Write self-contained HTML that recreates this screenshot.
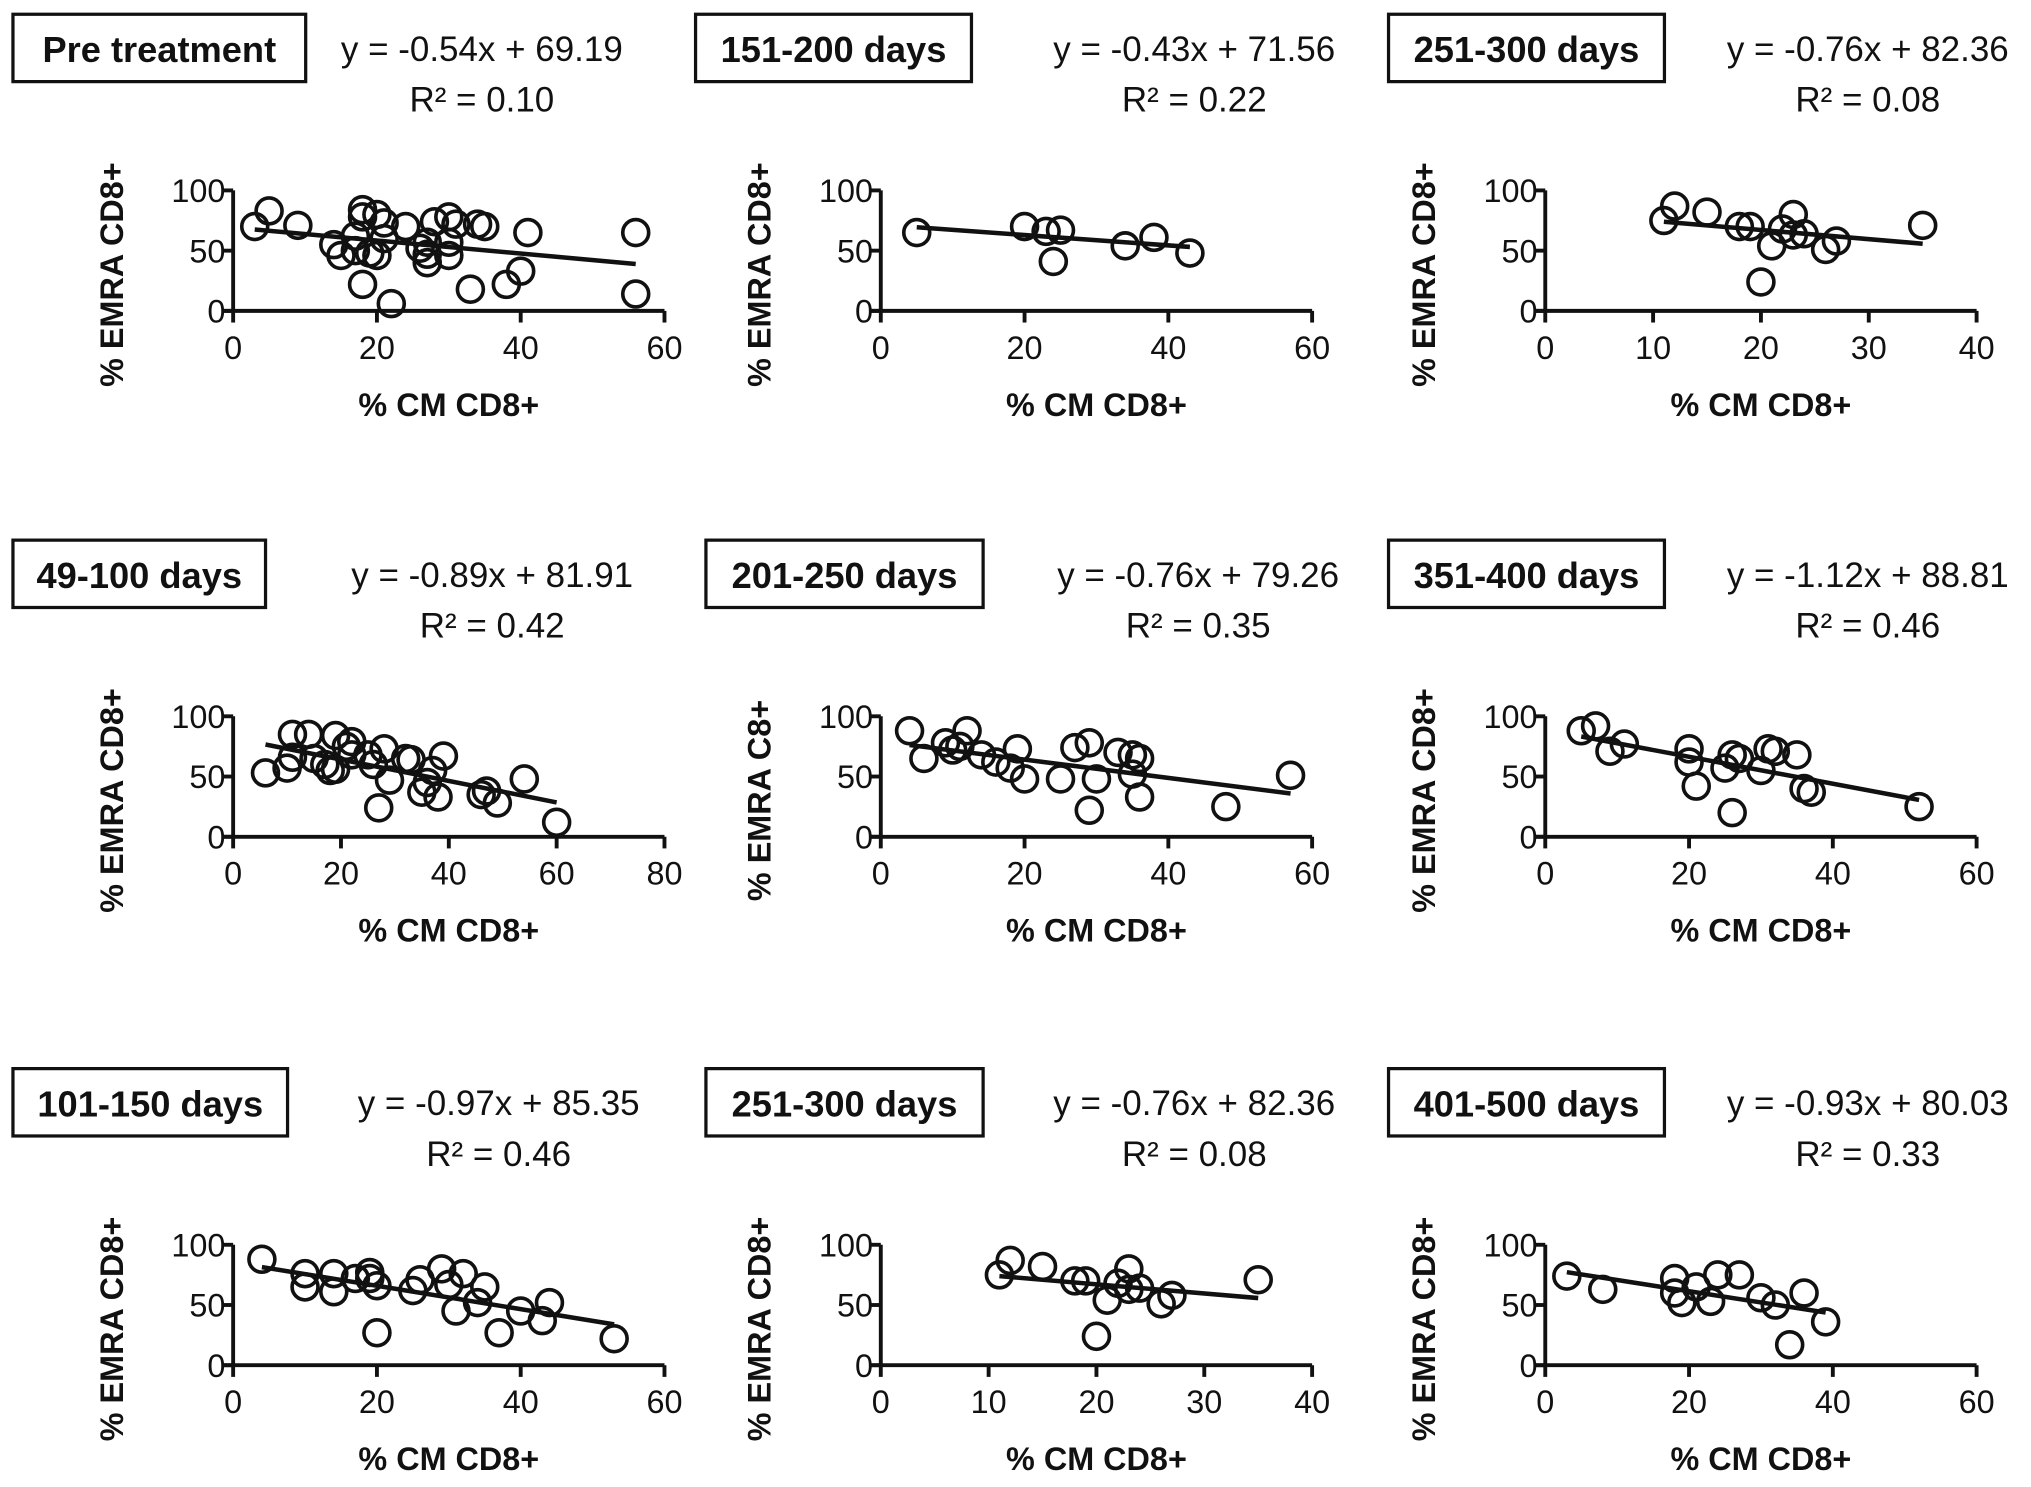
<!DOCTYPE html>
<html><head><meta charset="utf-8"><style>
html,body{margin:0;padding:0;background:#fff;}
svg{display:block;}
text{font-family:"Liberation Sans",Arial,sans-serif;fill:#111;}
</style></head><body>
<svg id="fig" width="2031" height="1487" viewBox="0 0 1568 1148" xmlns="http://www.w3.org/2000/svg"></svg>
<script>
// ---- data ----
const titles = ["Pre treatment","151-200 days","251-300 days","49-100 days","201-250 days","351-400 days","101-150 days","251-300 days","401-500 days"];
const slopes = [-0.54,-0.43,-0.76,-0.89,-0.76,-1.12,-0.97,-0.76,-0.93];
const intercepts = [69.19,71.56,82.36,81.91,79.26,88.81,85.35,82.36,80.03];
const r2Labels = ["0.10","0.22","0.08","0.42","0.35","0.46","0.46","0.08","0.33"];
const xMaxes = [60,60,40,80,60,60,60,40,60];
const yLabels = ["% EMRA CD8+","% EMRA CD8+","% EMRA CD8+","% EMRA CD8+","% EMRA C8+","% EMRA CD8+","% EMRA CD8+","% EMRA CD8+","% EMRA CD8+"];
const p1x=[3,5,9,14,15,17,18,18,18,19,20,20,21,21,22,24,27,27,27,28,30,30,30,31,34,35,33,38,40,41,56,56,26,17];
const p1y=[70,83,71,55,46,62,84,78,22,48,80,46,73,60,6,70,57,47,40,74,78,57,46,72,72,70,18,22,33,65,65,14,52,50];
const p2x=[5,20,23,24,25,34,38,43];
const p2y=[65,70,66,41,67,54,61,48];
const p3x=[11,12,15,18,19,20,21,22,23,24,26,27,35,23];
const p3y=[75,87,82,70,70,24,54,68,80,64,51,58,71,63];
const p4x=[6,10,11,11,14,15,17,18,19,19,21,22,22,25,26,27,28,29,32,33,35,36,37,38,39,46,47,49,54,60];
const p4y=[53,57,85,66,85,65,60,55,84,56,75,79,68,68,60,24,73,47,65,64,37,45,55,33,67,35,38,28,48,12];
const p5x=[4,6,9,10,11,12,14,16,18,19,20,25,27,29,29,30,33,35,35,36,36,48,57];
const p5y=[88,65,78,72,75,88,68,62,57,73,48,48,74,78,22,48,70,52,68,65,33,25,51];
const p6x=[5,7,9,11,20,20,21,25,26,26,27,30,31,32,35,36,37,52];
const p6y=[88,92,71,77,73,62,42,57,68,20,65,55,73,71,68,40,37,25];
const p7x=[4,10,10,14,14,17,19,19,20,20,25,26,29,30,31,32,34,35,37,40,43,44,53];
const p7y=[88,76,65,76,61,72,77,72,66,27,62,71,80,67,45,76,52,65,27,45,37,52,22];
const p8x=[11,12,15,18,19,20,21,22,23,24,26,27,35,23];
const p8y=[75,87,82,70,70,24,54,68,80,64,51,58,71,63];
const p9x=[3,8,18,18,19,21,23,24,27,30,32,34,36,39];
const p9y=[74,63,72,60,52,65,53,75,75,56,50,17,60,36];
const xs=[p1x,p2x,p3x,p4x,p5x,p6x,p7x,p8x,p9x];
const ys=[p1y,p2y,p3y,p4y,p5y,p6y,p7y,p8y,p9y];
const yTicks=[0,50,100];

// ---- layout ----
const svg=document.getElementById('fig');
const NS='http://www.w3.org/2000/svg';
const colX=[180,680,1193];
const boxes=[[10,226],[537,213],[1072,213],[10,195],[545,214],[1072,213],[10,212],[545,214],[1072,213]];
const eqX=[372,922,1442,380,925,1442,385,922,1442];
const rowOff=[0,406,814];
const AW=333, AH=93, Y0=240;
function mk(tag,attrs,parent){const e=document.createElementNS(NS,tag);for(const k in attrs)e.setAttribute(k,attrs[k]);(parent||svg).appendChild(e);return e;}

for(let i=0;i<9;i++){
  const c=i%3, r=Math.floor(i/3), dy=rowOff[r];
  const g=mk('g',{});
  
  
  const ox=colX[c], oy=Y0+dy;
  const sx=v=>ox+v/xMaxes[i]*AW;
  const sy=v=>oy-v/100*AH;
  const bx=mk('rect',{x:boxes[i][0],y:11+dy,width:boxes[i][1],height:52,fill:'none',stroke:'#111','stroke-width':2.5},g);
  
  
  const t=mk('text',{x:boxes[i][0]+boxes[i][1]/2,y:48+dy,'text-anchor':'middle','font-size':28,'font-weight':'bold'},g);
  t.textContent=titles[i];
  
  
  const eq=mk('text',{x:eqX[i],y:47+dy,'text-anchor':'middle','font-size':27},g);
  eq.textContent='y = '+slopes[i].toFixed(2)+'x + '+intercepts[i].toFixed(2);
  
  
  const r2=mk('text',{x:eqX[i],y:86+dy,'text-anchor':'middle','font-size':27},g);
  r2.textContent='R² = '+r2Labels[i];
  
  
  const ya=mk('line',{x1:ox,y1:sy(100),x2:ox,y2:oy,stroke:'#111','stroke-width':3},g);
  
  
  const xa=mk('line',{x1:ox-8,y1:oy,x2:sx(xMaxes[i]),y2:oy,stroke:'#111','stroke-width':3},g);
  
  
  yTicks.forEach(v=>{
    mk('line',{x1:ox-8,y1:sy(v),x2:ox,y2:sy(v),stroke:'#111','stroke-width':3},g);
    const tl=mk('text',{x:ox-6,y:sy(v)+9,'text-anchor':'end','font-size':25},g);
    tl.textContent=v;
    
    
  });
  const step=xMaxes[i]===40?10:20;
  for(let v=0;v<=xMaxes[i];v+=step){
    mk('line',{x1:sx(v),y1:oy,x2:sx(v),y2:oy+9,stroke:'#111','stroke-width':3},g);
    const tl=mk('text',{x:sx(v),y:oy+37,'text-anchor':'middle','font-size':25},g);
    tl.textContent=v;
    
    
  }
  const yl=mk('text',{x:0,y:0,'text-anchor':'middle','font-size':25,'font-weight':'bold',transform:'translate('+(ox-85)+','+(oy-28)+') rotate(-90)'},g);
  yl.textContent=yLabels[i];
  
  
  const xl=mk('text',{x:ox+AW/2,y:oy+81,'text-anchor':'middle','font-size':25,'font-weight':'bold'},g);
  xl.textContent='% CM CD8+';
  
  
  const px=xs[i], py=ys[i];
  for(let k=0;k<px.length;k++){
    const p=mk('circle',{cx:sx(px[k]),cy:sy(py[k]),r:10,fill:'none',stroke:'#111','stroke-width':2.8},g);
    
    
  }
  const xmin=Math.min(...px), xmax=Math.max(...px);
  const fl=mk('line',{x1:sx(xmin),y1:sy(intercepts[i]+slopes[i]*xmin),x2:sx(xmax),y2:sy(intercepts[i]+slopes[i]*xmax),stroke:'#111','stroke-width':3.5},g);
  
  
}
</script>
</body></html>
